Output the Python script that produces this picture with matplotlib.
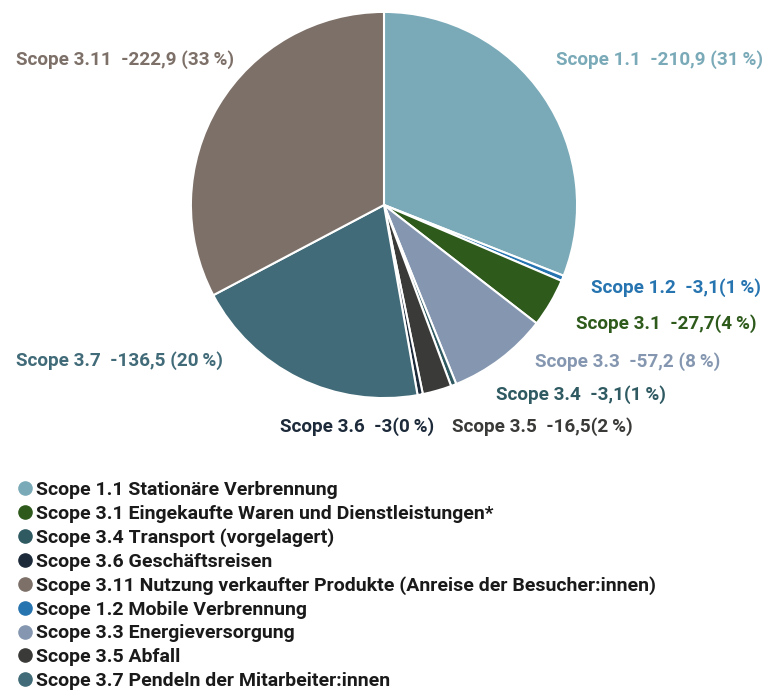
import matplotlib
matplotlib.use('Agg')
import matplotlib.pyplot as plt
from matplotlib.lines import Line2D

# slices, clockwise from 12 o'clock
scopes = ['Scope 1.1', 'Scope 1.2', 'Scope 3.1', 'Scope 3.3', 'Scope 3.4',
          'Scope 3.5', 'Scope 3.6', 'Scope 3.7', 'Scope 3.11']
values = [210.9, 3.1, 27.7, 57.2, 3.1, 16.5, 3.0, 136.5, 222.9]
valueText = ['-210,9', '-3,1', '-27,7', '-57,2', '-3,1', '-16,5', '-3', '-136,5', '-222,9']
percents = [31, 1, 4, 8, 1, 2, 0, 20, 33]
colors = ['#7aaab8', '#2674b0', '#2e5a1c', '#8597b0', '#2f5a62',
          '#3a3a38', '#1d2a3a', '#416b78', '#7d7068']

legendOrder = ['Scope 1.1', 'Scope 3.1', 'Scope 3.4', 'Scope 3.6', 'Scope 3.11',
               'Scope 1.2', 'Scope 3.3', 'Scope 3.5', 'Scope 3.7']
legendText = ['Scope 1.1 Stationäre Verbrennung',
              'Scope 3.1 Eingekaufte Waren und Dienstleistungen*',
              'Scope 3.4 Transport (vorgelagert)',
              'Scope 3.6 Geschäftsreisen',
              'Scope 3.11 Nutzung verkaufter Produkte (Anreise der Besucher:innen)',
              'Scope 1.2 Mobile Verbrennung',
              'Scope 3.3 Energieversorgung',
              'Scope 3.5 Abfall',
              'Scope 3.7 Pendeln der Mitarbeiter:innen']

# label anchor in pixels (x, y_center, horizontal alignment)
labelPos = {
    'Scope 1.1': (556, 60, 'left'),
    'Scope 1.2': (761, 288, 'right'),
    'Scope 3.1': (757, 324, 'right'),
    'Scope 3.3': (535, 362, 'left'),
    'Scope 3.4': (496, 395, 'left'),
    'Scope 3.5': (452, 427, 'left'),
    'Scope 3.6': (280, 427, 'left'),
    'Scope 3.7': (16, 361, 'left'),
    'Scope 3.11': (16, 60, 'left'),
}

W, H = 767, 690
plt.rcParams['font.family'] = ['Roboto', 'DejaVu Sans']
fig = plt.figure(figsize=(W / 100, H / 100), dpi=100)

cx, cy, r = 384, 205, 195
ax = fig.add_axes([(cx - r) / W, 1 - (cy + r) / H, 2 * r / W, 2 * r / H])
ax.pie(values, colors=colors, startangle=90, counterclock=False, radius=1,
       wedgeprops=dict(edgecolor='white', linewidth=1.5))
ax.set_xlim(-1.01, 1.01)
ax.set_ylim(-1.01, 1.01)
ax.set_aspect('equal')
ax.axis('off')

for s, v, p, c in zip(scopes, valueText, percents, colors):
    x, y, ha = labelPos[s]
    if p >= 8:
        txt = f'{s}  {v} ({p}\u2009%)'
    else:
        txt = f'{s}  {v}({p}\u2009%)'
    fig.text(x / W, 1 - y / H, txt, color=c, fontsize=13.6, fontweight='bold',
             ha=ha, va='center')

handles = []
for s in legendOrder:
    c = colors[scopes.index(s)]
    handles.append(Line2D([], [], marker='o', linestyle='none', markersize=9.5,
                          markerfacecolor=c, markeredgecolor=c))
leg = fig.legend(handles, legendText, loc='upper left',
                 bbox_to_anchor=(17 / W, 1 - 481 / H), frameon=False,
                 prop=dict(size=14, weight='bold'), handlelength=0.8,
                 handletextpad=0.18, labelspacing=0.29, borderpad=0, borderaxespad=0)
for t in leg.get_texts():
    t.set_color('#1a1a1a')

fig.savefig('out.png', dpi=100)
